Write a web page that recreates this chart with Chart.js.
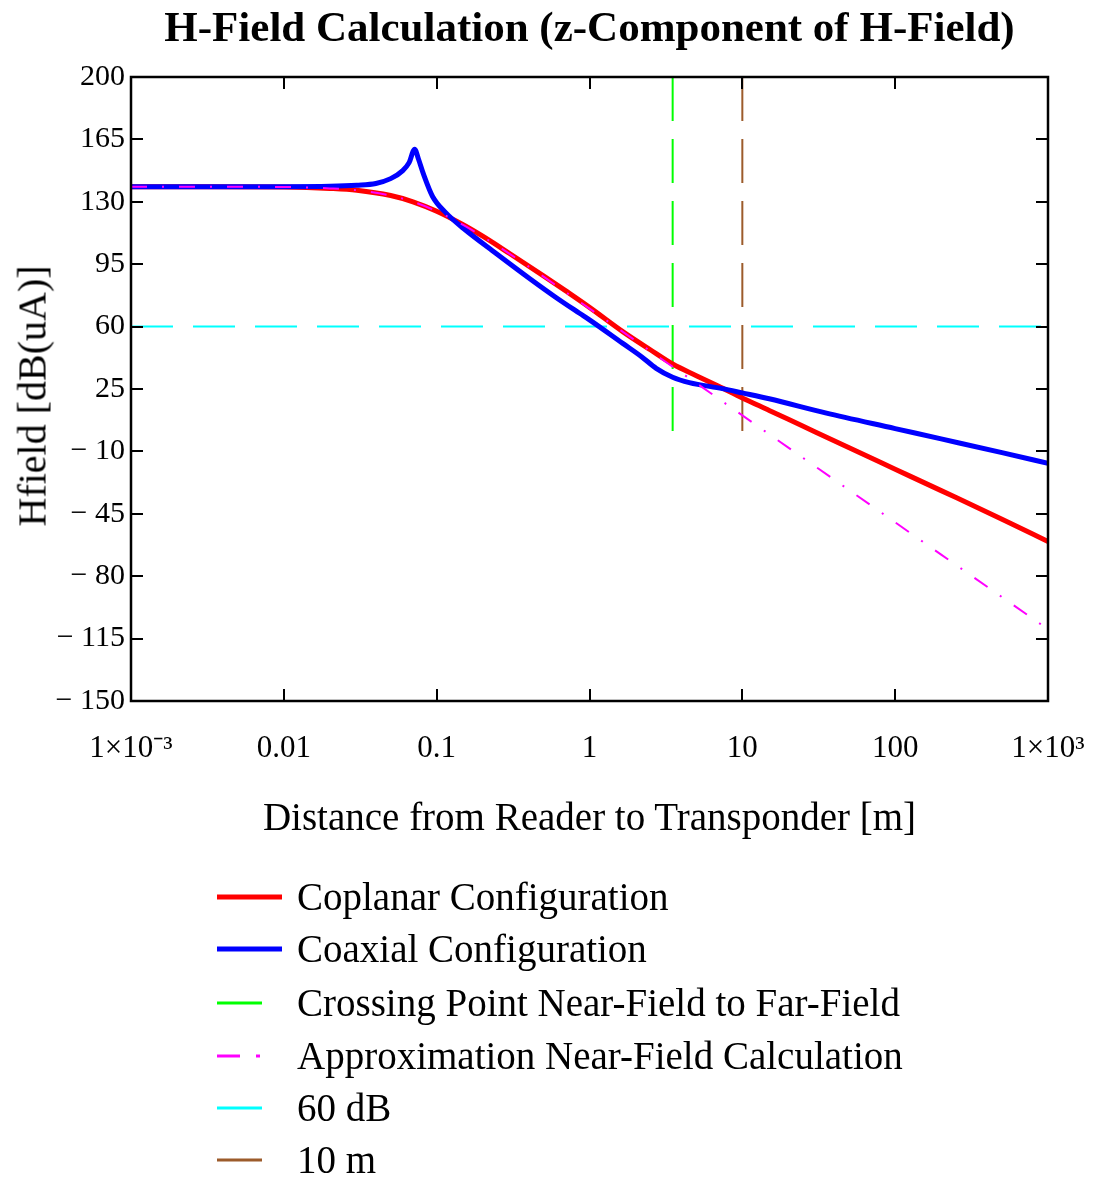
<!DOCTYPE html>
<html>
<head>
<meta charset="utf-8">
<title>H-Field Calculation</title>
<script src="https://cdn.jsdelivr.net/npm/chart.js@4.4.1/dist/chart.umd.min.js"></script>
<style>
  body { margin: 0; background: #fff; }
  #wrap { position: relative; width: 1098px; height: 1178px; font-family: "Liberation Serif", "Times New Roman", serif; color: #000; }
  #chart { position: absolute; left: 0; top: 0; }
  .title { position: absolute; left: 131px; width: 917px; top: 0; line-height: 54px; text-align: center; font-size: 43px; font-weight: bold; }
  .xtitle { position: absolute; left: 131px; width: 917px; top: 795px; line-height: 44px; text-align: center; font-size: 39px; }
  .ytitle { position: absolute; left: 32px; top: 396px; font-size: 40px; white-space: nowrap; transform: translate(-50%, -50%) rotate(-90deg); }
  .legend { position: absolute; left: 0; top: 0; }
  .row { position: absolute; left: 212px; height: 44px; line-height: 44px; font-size: 39px; white-space: nowrap; }
  .row svg { position: absolute; left: 0; top: 17px; }
  .row span { position: absolute; left: 85px; top: 0; }
</style>
</head>
<body>
<div id="wrap">
  <canvas id="chart" width="1098" height="1178"></canvas>
  <div class="title">H-Field Calculation (z-Component of H-Field)</div>
  <div class="xtitle">Distance from Reader to Transponder [m]</div>
  <div class="ytitle">Hfield [dB(uA)]</div>
  <div class="legend" id="legend"></div>
</div>
<script>
/* ── data ── */
const distanceTicks = [0.001, 0.01, 0.1, 1, 10, 100, 1000];
const dbTicks = [-150, -115, -80, -45, -10, 25, 60, 95, 130, 165, 200];

const coplanarDist = [0.001, 0.003, 0.01, 0.02, 0.03, 0.05, 0.07, 0.1, 0.15, 0.2, 0.3, 0.5, 0.7, 1, 1.65, 2.5, 3.5, 5, 7, 10, 15, 20, 30, 50, 100, 200, 500, 1000];
const coplanarDb   = [138.5, 138.5, 138.3, 137.5, 136.5, 133.5, 130, 124.7, 117, 110.7, 101, 88.5, 80, 70.8, 57.2, 47, 39, 32.5, 26.5, 20, 13, 8, 0.9, -8, -20, -32, -48, -60.6];

const coaxialDist = [0.001, 0.01, 0.02, 0.03, 0.04, 0.05, 0.06, 0.066, 0.0718, 0.076, 0.082, 0.094, 0.115, 0.15, 0.245, 0.405, 0.6, 0.86, 1, 1.65, 2.2, 2.73, 3.5, 4.5, 7.4, 10, 15, 35, 100, 200, 500, 1000];
const coaxialDb   = [138.5, 138.5, 138.7, 139.3, 140.3, 143, 147.5, 152, 159.5, 154, 145.5, 133, 123.8, 115, 101, 87, 76.5, 67.5, 63.8, 50.6, 43, 36.6, 31.6, 28.6, 25.2, 22.8, 19.5, 11.6, 2.8, -3, -10.7, -16.7];

const approxDist = [0.001, 0.01, 0.02, 0.03, 0.05, 0.07, 0.1, 0.15, 0.2, 0.3, 0.5, 0.7, 1, 2, 3.5, 5, 10, 20, 50, 100, 200, 500, 1000];
const approxDb   = [138.5, 138.3, 137.5, 136.5, 133.5, 130, 124.7, 116.9, 110.5, 100.8, 88, 79.3, 70.1, 52.1, 37.5, 28.3, 10.2, -7.9, -31.7, -49.8, -67.9, -91.7, -109.8];

const crossingDist = [3.5, 3.5];
const crossingDb   = [200, 0];
const tenMeterDist = [10, 10];
const tenMeterDb   = [200, 0];
const levelDist = [0.001, 1000];
const levelDb   = [60, 60];

const seriesNames = ['Coplanar Configuration', 'Coaxial Configuration', 'Crossing Point Near-Field to Far-Field', 'Approximation Near-Field Calculation', '60 dB', '10 m'];

/* ── helpers ── */
function pairs(xs, ys){ return xs.map(function(x, i){ return { x: x, y: ys[i] }; }); }

var RED = '#ff0000', BLUE = '#0000ff', GREEN = '#00ff00', MAGENTA = '#ff00ff', CYAN = '#00ffff', BROWN = '#9c5b2b';

// frame + inward tick marks like the original plot
var framePlugin = {
  id: 'frame',
  afterDraw: function(chart){
    var ctx = chart.ctx, a = chart.chartArea, xs = chart.scales.x, ys = chart.scales.y;
    ctx.save();
    ctx.strokeStyle = '#000';
    ctx.lineWidth = 2;
    ctx.beginPath();
    xs.ticks.forEach(function(t){
      var p = Math.round(xs.getPixelForValue(t.value));
      if(p <= a.left + 1 || p >= a.right - 1) return;
      ctx.moveTo(p, a.bottom); ctx.lineTo(p, a.bottom - 12);
      ctx.moveTo(p, a.top);    ctx.lineTo(p, a.top + 12);
    });
    ys.ticks.forEach(function(t){
      var p = Math.round(ys.getPixelForValue(t.value));
      if(p <= a.top + 1 || p >= a.bottom - 1) return;
      ctx.moveTo(a.left, p);  ctx.lineTo(a.left + 12, p);
      ctx.moveTo(a.right, p); ctx.lineTo(a.right - 12, p);
    });
    ctx.stroke();
    ctx.lineWidth = 2.5;
    ctx.strokeRect(a.left, a.top, a.right - a.left, a.bottom - a.top);
    ctx.restore();
  }
};

new Chart(document.getElementById('chart'), {
  type: 'line',
  data: {
    datasets: [
      { label: seriesNames[0], data: pairs(coplanarDist, coplanarDb), borderColor: RED, borderWidth: 5, cubicInterpolationMode: 'monotone', order: 3 },
      { label: seriesNames[1], data: pairs(coaxialDist, coaxialDb), borderColor: BLUE, borderWidth: 5, cubicInterpolationMode: 'monotone', order: 2 },
      { label: seriesNames[2], data: pairs(crossingDist, crossingDb), borderColor: GREEN, borderWidth: 2, borderDash: [44, 18], order: 4 },
      { label: seriesNames[3], data: pairs(approxDist, approxDb), borderColor: MAGENTA, borderWidth: 2, borderDash: [16, 15, 2, 15], cubicInterpolationMode: 'monotone', order: 1 },
      { label: seriesNames[4], data: pairs(levelDist, levelDb), borderColor: CYAN, borderWidth: 2, borderDash: [42, 20], order: 5 },
      { label: seriesNames[5], data: pairs(tenMeterDist, tenMeterDb), borderColor: BROWN, borderWidth: 2, borderDash: [44, 18], order: 4 }
    ]
  },
  options: {
    responsive: false,
    animation: false,
    devicePixelRatio: 1,
    layout: { padding: { left: 0, right: 50, top: 77, bottom: 407 } },
    elements: { point: { radius: 0 }, line: { fill: false, tension: 0 } },
    plugins: { legend: { display: false }, tooltip: { enabled: false }, title: { display: false } },
    scales: {
      x: {
        type: 'logarithmic', min: 0.001, max: 1000,
        grid: { display: false, drawTicks: false }, border: { display: false },
        afterBuildTicks: function(s){ s.ticks = distanceTicks.map(function(v){ return { value: v }; }); },
        afterFit: function(s){ s.height = 70; s.paddingLeft = 0; s.paddingRight = 0; },
        ticks: {
          autoSkip: false, maxRotation: 0, minRotation: 0, padding: 29, color: '#000',
          font: { family: '"Liberation Serif", serif', size: 31 },
          callback: function(v){
            if(v === 0.001) return '1×10⁻³';
            if(v === 1000) return '1×10³';
            return String(v);
          }
        }
      },
      y: {
        type: 'linear', min: -150, max: 200,
        grid: { display: false, drawTicks: false }, border: { display: false },
        afterBuildTicks: function(s){ s.ticks = dbTicks.map(function(v){ return { value: v }; }); },
        afterFit: function(s){ s.width = 131; s.paddingTop = 0; s.paddingBottom = 0; },
        ticks: {
          autoSkip: false, padding: 6, color: '#000',
          font: { family: '"Liberation Serif", serif', size: 30 },
          callback: function(v){ return v < 0 ? '− ' + (-v) : String(v); }
        }
      }
    }
  },
  plugins: [framePlugin]
});

/* ── legend (html, below the plot) ── */
(function(){
  var legend = document.getElementById('legend');
  var rowsY = [875, 927, 981, 1034, 1086, 1138];
  var samples = [
    '<line x1="5" y1="5" x2="70" y2="5" stroke="' + RED + '" stroke-width="5"/>',
    '<line x1="5" y1="5" x2="70" y2="5" stroke="' + BLUE + '" stroke-width="5"/>',
    '<line x1="5" y1="5" x2="50" y2="5" stroke="' + GREEN + '" stroke-width="3"/>',
    '<line x1="5" y1="5" x2="28" y2="5" stroke="' + MAGENTA + '" stroke-width="3"/><line x1="44" y1="5" x2="48" y2="5" stroke="' + MAGENTA + '" stroke-width="3"/>',
    '<line x1="5" y1="5" x2="50" y2="5" stroke="' + CYAN + '" stroke-width="3"/>',
    '<line x1="5" y1="5" x2="50" y2="5" stroke="' + BROWN + '" stroke-width="3"/>'
  ];
  seriesNames.forEach(function(name, i){
    var row = document.createElement('div');
    row.className = 'row';
    row.style.top = rowsY[i] + 'px';
    row.innerHTML = '<svg width="75" height="10">' + samples[i] + '</svg><span>' + name + '</span>';
    legend.appendChild(row);
  });
})();
</script>
</body>
</html>
